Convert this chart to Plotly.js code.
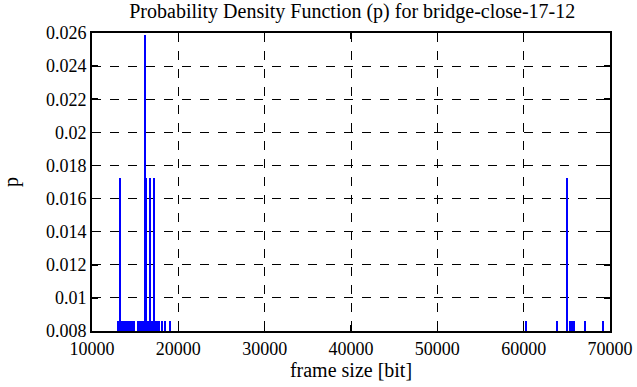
<!DOCTYPE html>
<html>
<head>
<meta charset="utf-8">
<script src="https://cdn.plot.ly/plotly-3.0.1.min.js"></script>
<style>html,body{margin:0;padding:0;background:#fff;}#chart{width:637px;height:387px;}</style>
</head>
<body>
<div id="chart"></div>
<script>
// frame sizes [bit] and their probabilities
const frameSizes = [
  13020, 13200, 13380, 13560, 13740, 13920,
  14080, 14250, 14420, 14540, 14780, 14920, 15270, 15450,
  15580, 15760, 15940, 16300, 16480, 16660, 16840, 17020, 17200, 17380, 17520,
  17760, 18110, 18490, 19070,
  60240, 63860, 65400, 65560, 65720, 65880, 67100, 69190,
  13243, 16104, 16220, 16683, 17147, 64985
];
const probabilities = [
  0.00862, 0.00862, 0.00862, 0.00862, 0.00862, 0.00862,
  0.00862, 0.00862, 0.00862, 0.00862, 0.00862, 0.00862, 0.00862, 0.00862,
  0.00862, 0.00862, 0.00862, 0.00862, 0.00862, 0.00862, 0.00862, 0.00862, 0.00862, 0.00862, 0.00862,
  0.00862, 0.00862, 0.00862, 0.00862,
  0.00862, 0.00862, 0.00862, 0.00862, 0.00862, 0.00862, 0.00862, 0.00862,
  0.01724, 0.02586, 0.01724, 0.01724, 0.01724, 0.01724
];
const xTickVals = [10000, 20000, 30000, 40000, 50000, 60000, 70000];
const xTickText = ["10000", "20000", "30000", "40000", "50000", "60000", "70000"];
const yTickVals = [0.008, 0.01, 0.012, 0.014, 0.016, 0.018, 0.02, 0.022, 0.024, 0.026];
const yTickText = ["0.008", "0.01", "0.012", "0.014", "0.016", "0.018", "0.02", "0.022", "0.024", "0.026"];

const fam = '"Liberation Serif", "DejaVu Serif", serif';
const f = (s) => ({family: fam, size: s, color: "#000"});

Plotly.newPlot("chart", [{
  type: "bar",
  x: frameSizes,
  y: probabilities,
  base: 0,
  width: 210,
  marker: {color: "#0000ff", line: {width: 0}},
  hoverinfo: "x+y"
}], {
  width: 637, height: 387,
  margin: {l: 92, r: 27, t: 33, b: 56},
  paper_bgcolor: "#fff", plot_bgcolor: "#fff",
  showlegend: false,
  font: f(18),
  title: {text: "Probability Density Function (p) for bridge-close-17-12", x: 0.553, xanchor: "center", y: 0.99, yanchor: "top", pad: {t: 0, b: 0}, font: f(20)},
  xaxis: {
    range: [10000, 70000], tickvals: xTickVals, ticktext: xTickText,
    ticks: "inside", ticklen: 6, tickcolor: "#000", tickwidth: 1.5,
    showline: true, linecolor: "#000", linewidth: 2, mirror: "allticks",
    showgrid: true, gridcolor: "#000", gridwidth: 1, griddash: "dash",
    zeroline: false, tickfont: f(18),
    title: {text: "frame size [bit]", font: f(20), standoff: 2}
  },
  yaxis: {
    range: [0.008, 0.026], tickvals: yTickVals, ticktext: yTickText,
    ticks: "inside", ticklen: 6, tickcolor: "#000", tickwidth: 1.5,
    showline: true, linecolor: "#000", linewidth: 2, mirror: "allticks",
    showgrid: true, gridcolor: "#000", gridwidth: 1, griddash: "dash",
    zeroline: false, tickfont: f(18),
    title: {text: "p", font: f(20), standoff: 24}
  },
  bargap: 0
}, {displayModeBar: false, staticPlot: true});
</script>
</body>
</html>
